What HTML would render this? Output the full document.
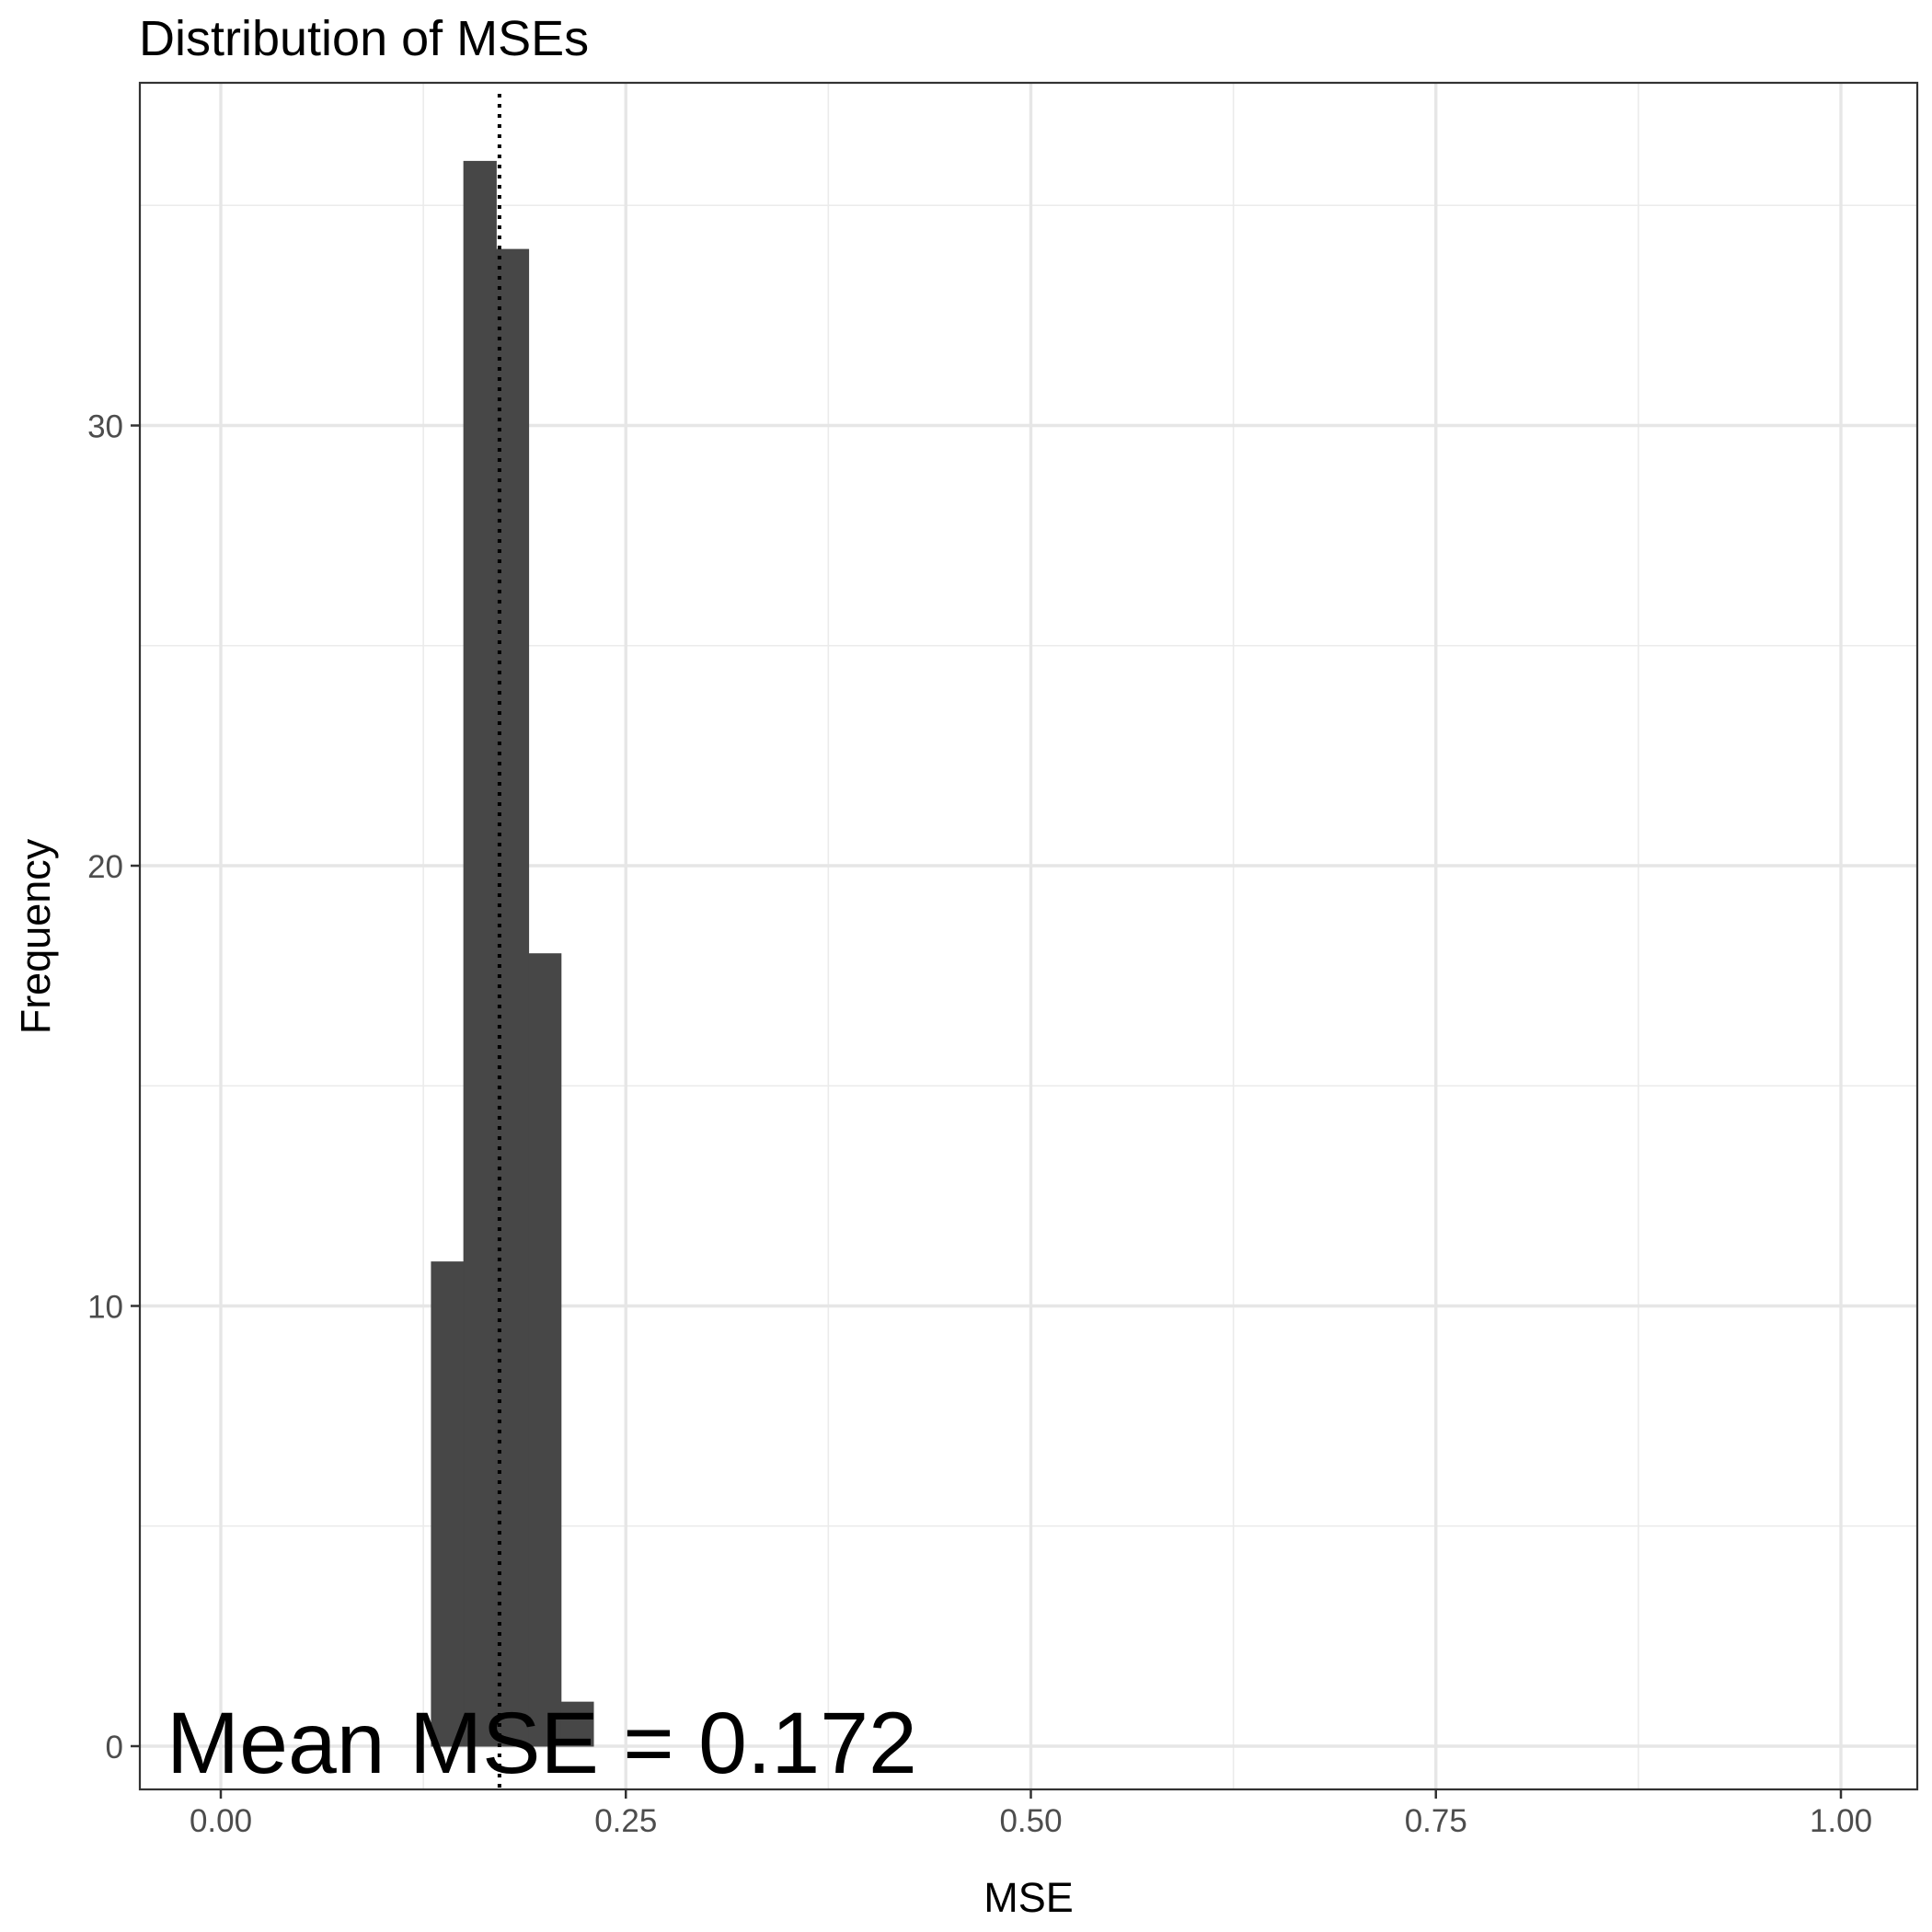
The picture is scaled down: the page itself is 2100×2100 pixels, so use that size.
<!DOCTYPE html>
<html><head><meta charset="utf-8"><style>
html,body{margin:0;padding:0;background:#fff;}
svg{display:block;font-family:"Liberation Sans",Arial,sans-serif;}
</style></head><body>
<svg id="chart" width="2100" height="2100" viewBox="0 0 2100 2100">
<rect x="0" y="0" width="2100" height="2100" fill="#fff"/>
<text x="151" y="60" font-size="54" fill="#000">Distribution of MSEs</text>
<g id="grid"></g>
<g id="bars"></g>
<g id="overlay"></g>
<rect x="152" y="90" width="1932" height="1855" fill="none" stroke="#333" stroke-width="2.2"/>
<g id="axes"></g>
<text x="1118" y="2078" font-size="45" text-anchor="middle" fill="#000">MSE</text>
<text transform="translate(54,1018) rotate(-90)" font-size="45" text-anchor="middle" fill="#000">Frequency</text>
</svg>
<script>
const binStarts = [0.13, 0.15, 0.17, 0.19, 0.21];
const binCounts = [11, 36, 34, 18, 1];
const binWidth = 0.02;
const meanMSE = 0.172;
const xTicks = [0, 0.25, 0.5, 0.75, 1.0];
const xTickLabels = ["0.00", "0.25", "0.50", "0.75", "1.00"];
const xMinor = [0.125, 0.375, 0.625, 0.875];
const yTicks = [0, 10, 20, 30];
const yTickLabels = ["0", "10", "20", "30"];
const yMinor = [5, 15, 25, 35];

const PL=152, PR=2084, PT=90, PB=1945;
function xs(v){ return 240 + v * 1761; }
function ys(v){ return 1898 - v * 47.85; }
const NS="http://www.w3.org/2000/svg";
function mk(tag, attrs, parent){
  const e=document.createElementNS(NS,tag);
  for(const k in attrs) e.setAttribute(k,attrs[k]);
  parent.appendChild(e); return e;
}
const grid=document.getElementById('grid');
const bars=document.getElementById('bars');
const overlay=document.getElementById('overlay');
const axes=document.getElementById('axes');

xMinor.forEach(v=>{
  const l=mk('line',{x1:xs(v),x2:xs(v),y1:PT,y2:PB,stroke:'#EBEBEB','stroke-width':1.6},grid);
  
  
});
yMinor.forEach(v=>{
  const l=mk('line',{x1:PL,x2:PR,y1:ys(v),y2:ys(v),stroke:'#EBEBEB','stroke-width':1.6},grid);
  
  
});
xTicks.forEach(v=>{
  const l=mk('line',{x1:xs(v),x2:xs(v),y1:PT,y2:PB,stroke:'#E6E6E6','stroke-width':3.4},grid);
  
  
});
yTicks.forEach(v=>{
  const l=mk('line',{x1:PL,x2:PR,y1:ys(v),y2:ys(v),stroke:'#E6E6E6','stroke-width':3.4},grid);
  
  
});

binStarts.forEach((s,i)=>{
  const x0=xs(s), x1=xs(s+binWidth), y0=ys(binCounts[i]), yb=ys(0);
  const r=mk('rect',{x:x0,y:y0,width:x1-x0,height:yb-y0,fill:'#474747',stroke:'#474747','stroke-width':1},bars);
  
  
});

const ml=mk('line',{x1:xs(meanMSE),x2:xs(meanMSE),y1:PT+12,y2:PB,stroke:'#000','stroke-width':4,'stroke-dasharray':'4 7'},overlay);



const ann=mk('text',{x:181,y:1927,'font-size':95,fill:'#000'},overlay);
ann.textContent='Mean MSE = '+meanMSE.toFixed(3);



xTicks.forEach((v,i)=>{
  const t=mk('line',{x1:xs(v),x2:xs(v),y1:PB,y2:PB+10,stroke:'#333','stroke-width':2.5},axes);
  
  
  const lb=mk('text',{x:xs(v),y:PB+46,'font-size':35,'text-anchor':'middle',fill:'#4D4D4D'},axes);
  lb.textContent=xTickLabels[i];
  
  
});
yTicks.forEach((v,i)=>{
  const t=mk('line',{x1:PL-10,x2:PL,y1:ys(v),y2:ys(v),stroke:'#333','stroke-width':2.5},axes);
  
  
  const lb=mk('text',{x:PL-18,y:ys(v)+13,'font-size':35,'text-anchor':'end',fill:'#4D4D4D'},axes);
  lb.textContent=yTickLabels[i];
  
  
});
</script>
</body></html>
